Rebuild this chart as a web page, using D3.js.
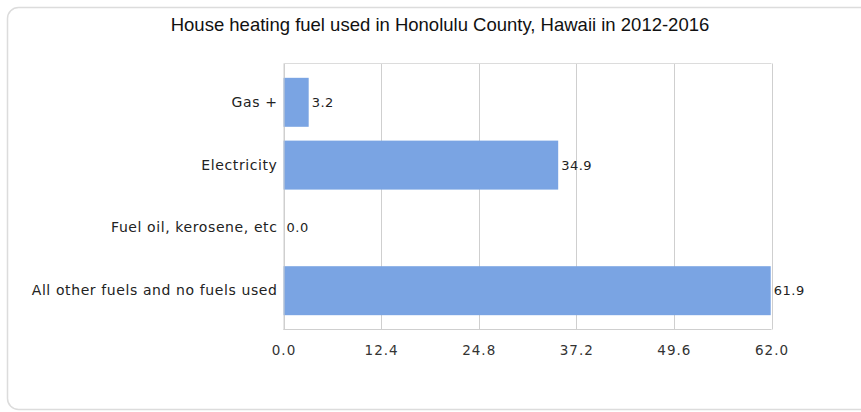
<!DOCTYPE html>
<html><head><meta charset="utf-8">
<script src="https://cdn.jsdelivr.net/npm/d3@7"></script>
<style>body{margin:0;background:#fff;}svg{display:block;}</style>
</head><body>
<script>
const title = "House heating fuel used in Honolulu County, Hawaii in 2012-2016";
const categories = ["Gas +", "Electricity", "Fuel oil, kerosene, etc", "All other fuels and no fuels used"];
const values = [3.2, 34.9, 0.0, 61.9];
const tickValues = [0, 12.4, 24.8, 37.2, 49.6, 62.0];

const W = 861, H = 412;
const svg = d3.select("body").append("svg").attr("width", W).attr("height", H);

svg.append("rect").attr("x", 7.5).attr("y", 7.5).attr("width", 870).attr("height", 402)
  .attr("rx", 11).attr("fill", "#fff").attr("stroke", "#dcdcdc").attr("stroke-width", 1.5);

svg.append("text").attr("x", 440).attr("y", 31).attr("text-anchor", "middle")
  .attr("font-family", "Liberation Sans, Arial, sans-serif").attr("font-size", 18.5)
  .attr("fill", "#111").text(title);

const m = {left: 283.5, right: 771.5, top: 63.5, bottom: 329.5};
const x = d3.scaleLinear().domain([0, 62]).range([m.left, m.right]);
const y = d3.scaleBand().domain(categories).range([m.top, m.bottom]).paddingInner(0.22).paddingOuter(0.228);

const font = "DejaVu Sans, sans-serif";

// grid
svg.append("g").selectAll("line").data(tickValues).join("line")
  .attr("x1", d => Math.round(x(d)) + 0.5).attr("x2", d => Math.round(x(d)) + 0.5)
  .attr("y1", m.top).attr("y2", m.bottom).attr("stroke", "#cfcfcf").attr("stroke-width", 1);
svg.append("line").attr("x1", m.left).attr("x2", m.right).attr("y1", m.top).attr("y2", m.top).attr("stroke", "#dcdcdc");
svg.append("line").attr("x1", m.left).attr("x2", m.right).attr("y1", m.bottom).attr("y2", m.bottom).attr("stroke", "#cfcfcf");

// bars
svg.append("g").selectAll("rect").data(values).join("rect")
  .attr("x", x(0)).attr("y", (d, i) => y(categories[i]))
  .attr("width", d => x(d) - x(0)).attr("height", y.bandwidth())
  .attr("fill", "#7aa4e3");

// value labels
svg.append("g").selectAll("text").data(values).join("text")
  .attr("x", d => x(d) + 3).attr("y", (d, i) => y(categories[i]) + y.bandwidth() / 2)
  .attr("dy", "0.35em").attr("font-family", font).attr("font-size", 13).attr("fill", "#222")
  .attr("letter-spacing", "0.5px")
  .text(d => d.toFixed(1));

// x axis
const xAxis = d3.axisBottom(x).tickValues(tickValues).tickSize(0).tickPadding(16).tickFormat(d3.format(".1f"));
const gx = svg.append("g").attr("transform", `translate(0,${m.bottom})`).call(xAxis);
gx.select(".domain").remove();
gx.selectAll("text").attr("font-family", font).attr("font-size", 13.5).attr("fill", "#333")
  .attr("letter-spacing", "1px");

// y axis
const yAxis = d3.axisLeft(y).tickSize(0).tickPadding(6);
const gy = svg.append("g").attr("transform", `translate(${m.left},0)`).call(yAxis);
gy.select(".domain").attr("stroke", "#cfcfcf");
gy.selectAll("text").attr("font-family", font).attr("font-size", 14).attr("fill", "#222")
  .attr("letter-spacing", "0.6px");
</script>
</body></html>
